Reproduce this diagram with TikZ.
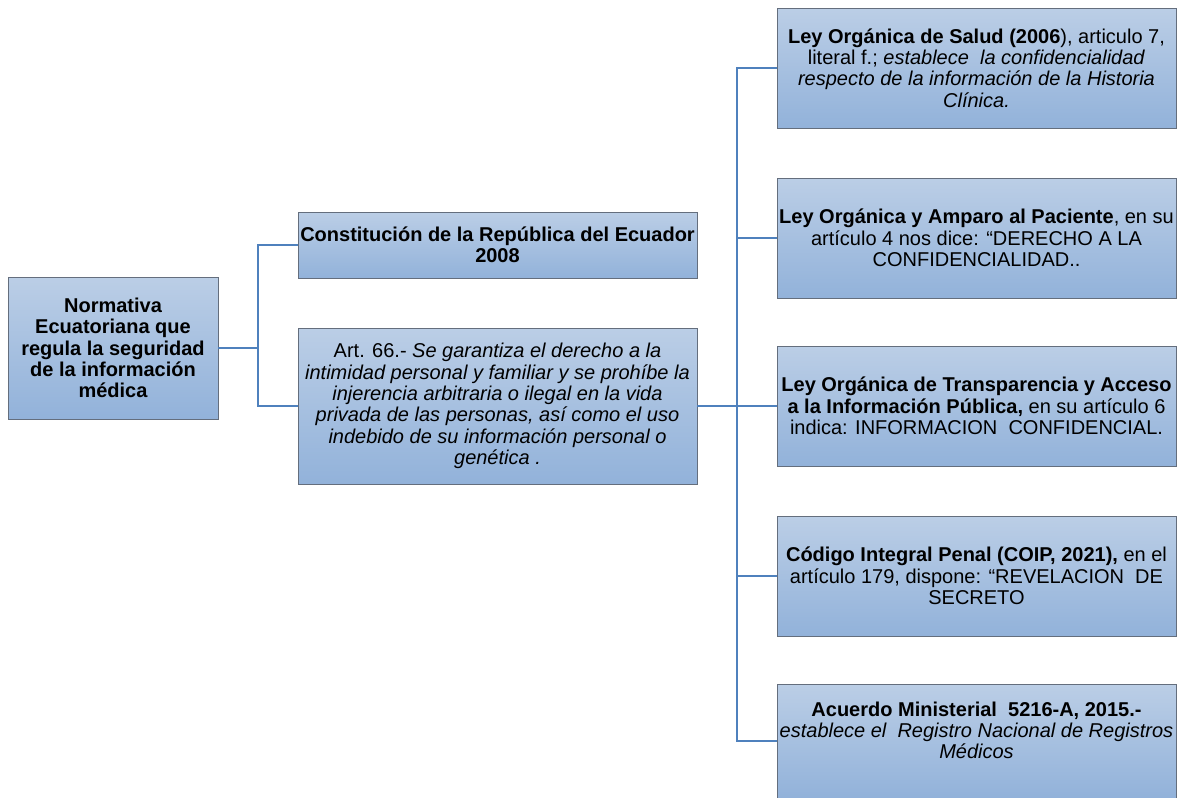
\documentclass[tikz,border=0pt]{standalone}
\usepackage{fontspec}
\setmainfont{Liberation Sans}
\definecolor{lineblue}{RGB}{79,129,189}
\definecolor{boxtop}{RGB}{187,206,230}
\definecolor{boxbot}{RGB}{146,178,218}
\definecolor{boxedge}{RGB}{100,110,125}
\begin{document}
\begin{tikzpicture}[x=1pt,y=1pt,
  box/.style={draw=boxedge, line width=0.8pt, top color=boxtop, bottom color=boxbot,
    align=center, inner sep=1pt, font=\fontsize{20}{21.3}\selectfont},
  conn/.style={draw=lineblue, line width=2pt}]
\useasboundingbox (0,0) rectangle (1179,-798);
\node[box, minimum width=210, minimum height=142] (root) at (113,-348)
  {\bfseries Normativa\\\bfseries Ecuatoriana que\\\bfseries regula la seguridad\\\bfseries de la información\\\bfseries médica};
\node[box, minimum width=399, minimum height=66] (con) at (497.5,-245)
  {\bfseries Constitución de la República del Ecuador\\\bfseries 2008};
\node[box, minimum width=399, minimum height=156] (art) at (497.5,-406)
  {Art. 66.- \itshape Se garantiza el derecho a la\\\itshape intimidad personal y familiar y se prohíbe la\\\itshape injerencia arbitraria o ilegal en la vida\\\itshape privada de las personas, así como el uso\\\itshape indebido de su información personal o\\\itshape genética .};
\node[box, minimum width=399, minimum height=120] (r1) at (976.5,-68)
  {\textbf{Ley Orgánica de Salud (2006}), articulo 7,\\literal f.; \textit{establece\ \ la confidencialidad}\\\itshape respecto de la información de la Historia\\\itshape Clínica.};
\node[box, minimum width=399, minimum height=120] (r2) at (976.5,-238)
  {\textbf{Ley Orgánica y Amparo al Paciente}, en su\\artículo 4 nos dice: “DERECHO A LA\\CONFIDENCIALIDAD..};
\node[box, minimum width=399, minimum height=120] (r3) at (976.5,-406)
  {\textbf{Ley Orgánica de Transparencia y Acceso}\\\textbf{a la Información Pública,} en su artículo 6\\indica: INFORMACION\ \ CONFIDENCIAL.};
\node[box, minimum width=399, minimum height=120] (r4) at (976.5,-576)
  {\textbf{Código Integral Penal (COIP, 2021),} en el\\artículo 179, dispone: “REVELACION\ \ DE\\SECRETO};
\node[box, minimum width=399, minimum height=114] (r5) at (976.5,-741)
  {\textbf{Acuerdo Ministerial\ \ 5216-A, 2015.-}\\\textit{establece el\ \ Registro Nacional de Registros}\\\textit{Médicos}\\[0pt]};
\coordinate (j1) at (258,-348);
\coordinate (j2) at (737,-406);
\draw[conn] (root.east) -- (j1);
\draw[conn] (j1) |- (con.west);
\draw[conn] (j1) |- (art.west);
\draw[conn] (art.east) -- (j2);
\foreach \n in {r1,r2,r3,r4,r5} \draw[conn] (j2) |- (\n.west);
\end{tikzpicture}
\end{document}
